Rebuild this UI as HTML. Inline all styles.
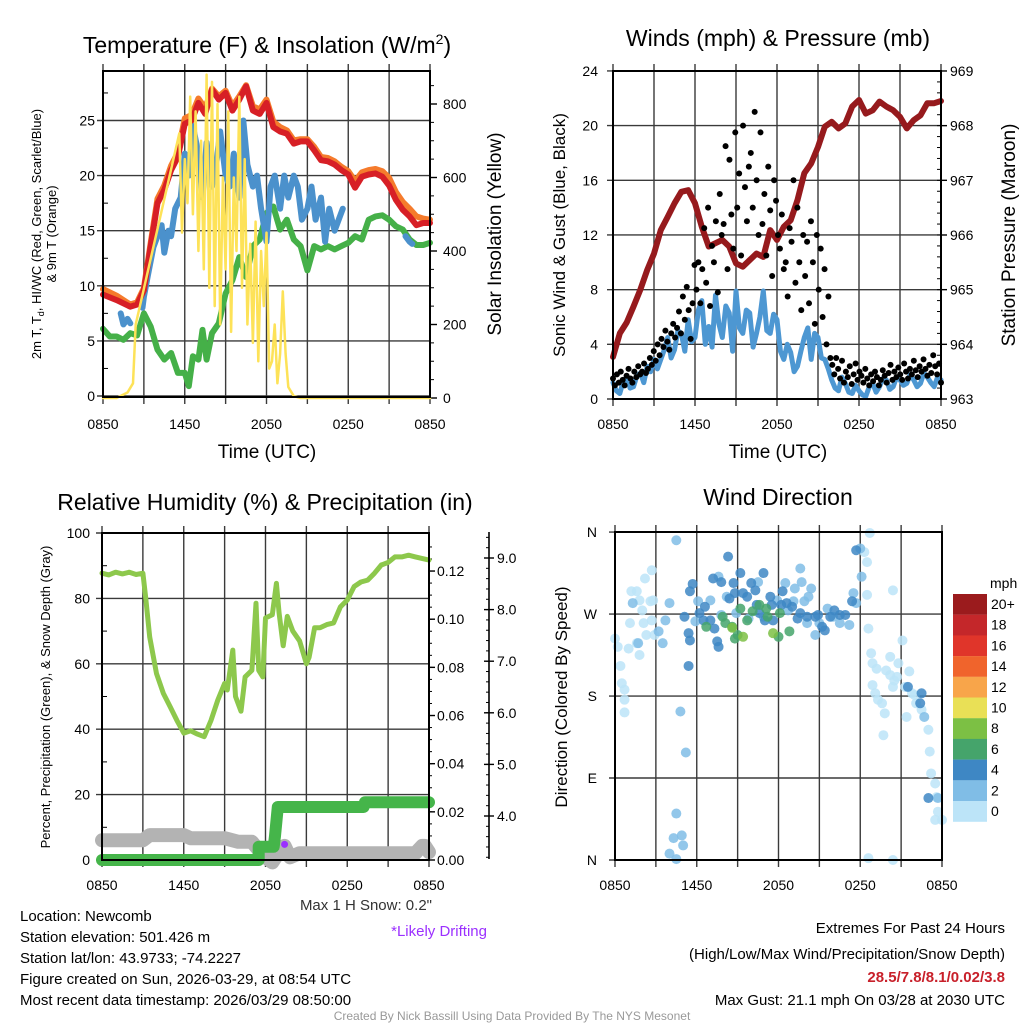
<!DOCTYPE html>
<html><head><meta charset="utf-8"><style>
html,body{margin:0;padding:0;background:#fff}
svg{display:block;font-family:"Liberation Sans",Arial,sans-serif}
</style></head><body>
<svg id="s" width="1024" height="1024" viewBox="0 0 1024 1024" xmlns="http://www.w3.org/2000/svg">
<rect width="1024" height="1024" fill="#fff"/>
<g id="p1"></g>
<g id="p2"></g>
<g id="p3"></g>
<g id="p4"></g>
<g id="txt" font-size="15" fill="#000">
<text x="20" y="921">Location: Newcomb</text>
<text x="20" y="942">Station elevation: 501.426 m</text>
<text x="20" y="963">Station lat/lon: 43.9733; -74.2227</text>
<text x="20" y="984">Figure created on Sun, 2026-03-29, at 08:54 UTC</text>
<text x="20" y="1005">Most recent data timestamp: 2026/03/29 08:50:00</text>
<text x="432" y="910" text-anchor="end" fill="#333">Max 1 H Snow: 0.2"</text>
<text x="487" y="936" text-anchor="end" fill="#9b30ff">*Likely Drifting</text>
<text x="1005" y="933" text-anchor="end">Extremes For Past 24 Hours</text>
<text x="1005" y="959" text-anchor="end">(High/Low/Max Wind/Precipitation/Snow Depth)</text>
<text x="1005" y="982" text-anchor="end" fill="#c8202a" font-weight="bold">28.5/7.8/8.1/0.02/3.8</text>
<text x="1005" y="1005" text-anchor="end">Max Gust: 21.1 mph On 03/28 at 2030 UTC</text>
<text x="512" y="1020" text-anchor="middle" font-size="12" fill="#999">Created By Nick Bassill Using Data Provided By The NYS Mesonet</text>
</g>
</svg>
<script>
// ---------- DATA ----------
const xTickLabels = ["0850","1450","2050","0250","0850"];
// Panel 1
const tempHours = [0,1,2,2.5,3,3.5,4,4.5,5,5.5,6,6.5,7,7.5,8,8.5,9,9.5,10,10.5,11,11.5,12,12.5,13,13.5,14,14.5,15,15.5,16,16.5,17,17.5,18,18.5,19,19.5,20,20.5,21,21.5,22,22.5,23,23.5,24];
const tempRed = [9.2,8.7,8.1,8.3,9.6,13.6,17.5,18.7,20.5,21.7,24.7,25.0,26.6,25.6,27.8,26.9,27.5,25.9,26.9,28.1,25.9,25.6,26.6,24.4,24.0,23.8,22.9,23.1,23.1,22.3,21.4,21.3,21.0,20.5,20.1,18.9,19.9,20.1,20.2,19.9,19.1,17.8,16.9,16.3,15.5,15.7,15.7];
const temp9m = [9.7,9.1,8.3,8.5,9.8,13.9,17.9,19.1,20.9,22.1,25.2,25.5,27.0,26.1,27.9,27.2,27.7,26.3,27.2,28.2,26.3,26.0,26.9,24.9,24.4,24.1,23.2,23.3,23.3,22.6,21.7,21.6,21.3,20.8,20.4,19.5,20.3,20.5,20.6,20.4,19.8,18.5,17.6,17.0,16.3,16.1,16.0];
const chillHours = [1.3,1.5,1.8,2.0,2.4,2.9,3.0,3.3,3.7,4.0,4.3,4.5,4.8,5.0,5.3,5.7,6.0,6.3,6.6,7.0,7.3,7.6,8.0,8.3,8.6,9.0,9.3,9.6,10.0,10.3,10.6,11.0,11.3,11.6,12.0,12.3,12.6,13.0,13.3,13.6,14.0,14.3,14.6,15.0,15.3,15.6,16.0,16.3,16.6,17.0,17.3,17.6,18.0,22.2,22.5,22.7];
const chillVals = [7.5,6.5,7.0,6.6,null,8.0,9,11,13.5,14.5,15.5,13,15,14.5,17,18,22,20,24.5,22,18,23,19,21,24,20,19,22,18,25,21,19,20,17,14,19,20,17,20,18,20,19,16,17,19,16,18,14,17,15,16,17,null,14.5,14,13.8];
const dewHours = [0,0.5,1,1.5,2,2.5,3,3.5,4,4.5,5,5.5,6,6.3,6.6,7,7.3,7.6,8,8.5,9,9.5,10,10.5,11,11.5,12,12.5,13,13.5,14,14.5,15,15.5,16,16.5,17,17.5,18,18.5,19,19.5,20,20.5,21,21.5,22,22.5,23,23.5,24];
const dewVals = [6.1,5.4,5.4,5.1,5.7,5.5,7.5,6.3,4.2,3.3,3.9,2.1,2.1,0.9,3.6,3.3,6.0,3.3,5.7,6.6,9.3,10.5,12.6,10.8,13.6,14.2,16.6,17.2,15.1,16.0,14.2,13.6,11.4,13.6,13.3,13.6,13.3,13.6,13.9,14.5,14.2,16.0,16.3,16.4,16.0,15.4,15.1,14.2,13.7,13.7,13.9];
const solarHours = [0,1,1.8,2.2,2.4,5.6,5.8,6,6.2,6.4,6.6,6.8,7,7.2,7.4,7.6,7.8,8,8.2,8.4,8.6,8.8,9,9.2,9.4,9.6,9.8,10,10.2,10.4,10.6,10.8,11,11.2,11.4,11.6,11.8,12,12.2,12.4,12.6,12.8,13,13.2,13.4,13.6,14,14.5,24];
const solarVals = [0,0,15,40,200,720,450,650,530,820,500,780,400,700,350,880,300,860,250,800,200,600,350,780,180,600,400,820,300,650,200,420,150,480,100,400,250,450,80,100,200,40,120,290,120,30,5,0,0];
// Panel 2
const windSpeed = [1.2,0.6,0.4,1.3,1.6,0.8,0.9,1.7,1.9,1.2,2.4,2.0,2.9,2.2,2.9,3.6,4.5,3.0,3.6,5.0,4.8,3.5,5.8,4.2,4.5,6.5,7.2,4.0,5.3,3.8,7.6,5.5,4.5,6.8,6.3,3.5,7.9,5.2,4.8,6.5,6.3,3.8,4.8,6.0,7.9,5.0,4.8,6.2,5.8,3.5,2.9,4.0,3.4,2.0,2.4,3.5,4.5,5.2,2.9,4.8,4.5,3.0,2.9,2.2,1.4,0.8,0.6,1.6,1.15,0.5,0.4,1.0,0.6,0.3,0.2,0.9,1.15,0.5,0.9,1.5,1.4,0.7,0.9,1.6,1.4,1.0,1.15,1.8,1.4,0.9,1.15,1.9,1.6,1.2,0.9,1.6,1.4];
const windGust = [1.5,1,1.8,1.2,2,1.4,1,1.7,2.2,1.5,1.2,2,1.6,2.4,1.8,2,2.6,1.9,2.2,3,2.5,
3.5,2.8,4,3.2,4.4,3.8,5,4.2,3.6,4.8,5.5,
4.5,5.2,6.4,4.8,7.5,5.8,8.2,6.5,4.4,7,9.8,
8,10,7,9.5,12.5,8.5,14,6.8,11.2,10,13,7.8,15,12,
12.8,18.5,9.5,17.5,13.5,11,19.5,14,16.5,10.5,20,15.5,13,17,
18,14,21,16,12,19.5,12.8,15,10.5,17,13.8,9,16,14.5,
12,11,13.5,9.5,10,7.5,12.5,11.5,16,8.5,14,10,6.5,12,
9,11.5,7,13,10,5.5,12,8,11,6,9.5,4,7.5,3,
2.5,1.8,3,2.2,1.5,2.8,1.2,2,1.6,2.4,1.1,1.8,2.6,1.4,2,1.7,1.2,2.2,1.5,1,1.8,1.3,2,1.6,1,1.4,2.1,1.7,1.2,1.9,2.5,1.4,2,1.6,2.3,1.8,1.4,2.6,2,1.5,2.2,1.8,2.8,2.1,1.6,2.4,2,2.9,2.2,1.7,2.5,1.9,3.2,2.4,1.8,2.6,1.2];
const pressure = [963.77,964.2,964.4,964.69,965.0,965.36,965.66,966.09,966.33,966.58,966.79,966.82,966.58,966.15,965.79,965.85,965.91,965.79,965.48,965.42,965.54,965.66,965.6,966.09,965.91,966.15,966.27,966.64,967.13,967.31,967.61,967.98,968.07,967.95,968.04,968.35,968.47,968.22,968.28,968.44,968.35,968.28,968.16,967.95,968.1,968.19,968.41,968.41,968.45];
// Panel 3
const rhHours = [0,0.5,1,1.5,2,2.5,3,3.2,3.5,4,4.5,5,5.5,6,6.5,7,7.5,8,8.5,9,9.2,9.6,9.8,10.2,10.5,11,11.3,11.5,11.8,12,12.5,12.8,13,13.3,13.6,14,14.5,15,15.2,15.6,16,16.5,17,17.5,18,18.5,19,19.5,20,20.5,21,21.5,22,22.5,23,24];
const rhVals = [87.7,87.2,88.0,87.5,88.0,87.3,87.7,80.5,68.2,57,51,46.9,42.7,38.8,39.5,38.5,37.7,42.7,48.9,54,52,64.2,50,45.5,56,58,78.5,58,56,74,75,84.6,75.5,65.5,74.5,70,67,60,62,71,71,72,72.5,77.4,79.5,83.6,85,85.6,87.7,90.2,91,92.7,92.7,93.2,92.7,91.7];
const precipHours = [0,11.5,11.5,12.6,12.7,12.8,12.9,19.2,19.3,24];
const precipVals = [0,0,0.0055,0.0055,0.01,0.016,0.022,0.022,0.024,0.024];
const snowHours = [0,3,3.5,6,6.5,9,10,11,11.5,12,12.5,13,13.4,13.8,14.5,23,23.5,23.7,24];
const snowVals = [3.53,3.53,3.63,3.63,3.57,3.57,3.5,3.5,3.34,3.2,3.1,3.3,3.42,3.2,3.28,3.28,3.42,3.42,3.3];
const driftHours = [13.4];
const driftVals = [3.45];
// Panel 4
const dirHours = [0.0,0.2,0.4,0.5,0.7,0.7,0.7,1.0,1.1,1.2,1.6,1.8,2.0,2.2,2.7,2.6,2.1,2.3,2.7,2.9,1.8,1.6,2.8,18.3,18.5,18.7,18.5,18.6,18.8,18.9,19.2,18.9,19.1,19.3,19.6,19.7,19.8,19.9,20.2,20.2,20.4,20.4,20.5,20.7,20.8,21.1,21.3,21.4,21.6,21.8,22.0,22.1,22.5,23.0,23.1,23.2,23.5,23.6,23.7,23.5,24.0,18.6,20.4,
1.3,1.7,3.2,3.5,3.7,4.0,4.5,4.8,5.2,4.5,4.3,4.9,5.0,4.0,4.5,5.9,6.1,7.0,7.6,7.8,8.2,8.9,9.8,10.5,10.9,11.9,12.5,12.7,13.1,13.2,13.6,13.7,13.9,14.1,14.2,14.4,14.7,15.0,15.6,16.0,16.5,17.2,17.5,17.7,18.1,22.7,23.7,18.0,
5.1,5.4,5.5,5.7,5.4,5.5,6.2,6.5,6.6,7.0,7.3,7.5,7.6,7.2,7.8,8.3,8.4,8.7,8.8,9.2,9.4,9.7,10.0,10.3,10.4,10.6,10.9,11.0,11.4,11.5,11.6,12.2,12.3,12.6,13.0,13.4,13.6,14.1,14.7,14.9,15.2,15.4,15.8,16.1,16.5,16.9,17.4,17.7,22.4,22.5,21.5,23.0,
6.7,7.9,8.1,8.6,8.8,9.2,9.7,10.1,10.6,11.1,11.2,12.0,12.1,12.8,9.0,
8.6,9.4,11.6];
const dirDegrees = [243,234,213,194,187,176,162,232,260,295,295,285,274,309,318,284,260,247,263,247,225,238,285,338,327,359,291,254,227,216,210,192,183,176,172,137,161,208,223,203,296,190,197,201,216,241,190,157,207,183,181,172,165,143,119,95,84,69,53,44,44,2,0,
282,238,251,238,263,282,351,163,118,51,24,27,16,7,1,262,284,285,311,269,289,271,265,305,267,285,304,274,284,298,320,305,284,260,289,298,247,260,276,267,260,258,293,282,311,157,68,342,
267,249,295,303,213,241,271,263,278,263,254,240,234,309,305,333,287,304,293,315,293,289,304,296,280,271,315,263,289,280,263,280,295,282,278,265,271,267,267,269,256,252,267,274,269,269,284,340,172,183,190,68,
256,267,260,256,243,276,263,273,280,276,267,245,271,251,247,
255,245,249];
const dirSpeeds = [1,1,1,1,1,1,1,1,1,1,1,1,1,1,1,1,1,1,1,1,1,1,1,1,1,1,1,1,1,1,1,1,1,1,1,1,1,1,1,1,1,1,1,1,1,1,1,1,1,1,1,1,1,1,1,1,1,1,1,1,1,1,1,
3,3,3,3,3,3,3,3,3,3,3,3,3,3,3,3,3,3,3,3,3,3,3,3,3,3,3,3,3,3,3,3,3,3,3,3,3,3,3,3,3,3,3,3,3,3,3,3,
5,5,5,5,5,5,5,5,5,5,5,5,5,5,5,5,5,5,5,5,5,5,5,5,5,5,5,5,5,5,5,5,5,5,5,5,5,5,5,5,5,5,5,5,5,5,5,5,5,5,5,5,
7,7,7,7,7,7,7,7,7,7,7,7,7,7,7,
9,9,9];
const speedBinLabels = ["20+","18","16","14","12","10","8","6","4","2","0"];
const speedBinColors = ["#9b1b1d","#c4272a","#e0352a","#f0642c","#f8a54a","#e9e056","#7cc044","#45a46b","#3e87c4","#80bde6","#bce4f8"];

// ---------- HELPERS ----------
const NS="http://www.w3.org/2000/svg";
function el(parent,tag,attrs,text){const e=document.createElementNS(NS,tag);for(const k in attrs)e.setAttribute(k,attrs[k]);if(text!==undefined)e.textContent=text;parent.appendChild(e);return e;}
function path(parent,hours,vals,xf,yf,stroke,w,name){
  let d="",pen=false;
  for(let i=0;i<Math.min(hours.length,vals.length);i++){
    if(vals[i]===null){pen=false;continue;}
    d+=(pen?"L":"M")+xf(hours[i]).toFixed(1)+","+yf(vals[i]).toFixed(1);pen=true;
  }
  const p=el(parent,"path",{d:d,fill:"none",stroke:stroke,"stroke-width":w,"stroke-linejoin":"round","stroke-linecap":"round"});
  
  
  return p;
}
function frame(g,L,R,T,B,hGrid,xLabY){
  for(let i=0;i<=8;i++){const x=L+(R-L)*i/8;
    const v=el(g,"line",{x1:x,x2:x,y1:T-7,y2:B+7,stroke:"#3a3a3a","stroke-width":1.4});
    
    
    if(i%2===0){const t=el(g,"text",{x:x,y:xLabY,"text-anchor":"middle","font-size":14},xTickLabels[i/2]);
      
      }
  }
  hGrid.forEach(y=>{const h=el(g,"line",{x1:L-6,x2:R,y1:y,y2:y,stroke:"#3a3a3a","stroke-width":1.4});
    
    });
}
function border(g,L,R,T,B){const r=el(g,"rect",{x:L,y:T,width:R-L,height:B-T,fill:"none",stroke:"#000","stroke-width":2});
  
  }
function label(g,x,y,txt,anchor,size,name,rot){
  const a={x:x,y:y,"text-anchor":anchor,"font-size":size};
  if(rot)a.transform="rotate(-90 "+x+" "+y+")";
  const t=el(g,"text",a,txt);
  
  
  return t;
}

// ---------- PANEL 1 ----------
(function(){
  const g=document.getElementById("p1");const L=103,R=430,T=71,B=397;
  const x=h=>L+h/24*(R-L), y=v=>396-v*11.02, ys=w=>398-w*0.3675;
  const tk=[0,5,10,15,20,25];
  frame(g,L,R,T,B,tk.map(y),429);
  tk.forEach(v=>label(g,95,y(v)+5,String(v),"end",14,"y-tick-label"));
  for(let v=2.5;v<29;v+=5){el(g,"line",{x1:L,x2:L+5,y1:y(v),y2:y(v),stroke:"#000"});}
  [0,200,400,600,800].forEach(w=>{label(g,443,ys(w)+5,String(w),"start",14,"right-tick-label");el(g,"line",{x1:R,x2:R+7,y1:ys(w),y2:ys(w),stroke:"#000","stroke-width":1.4});});
  for(let w=50;w<890;w+=50){el(g,"line",{x1:R,x2:R+4,y1:ys(w),y2:ys(w),stroke:"#000"});}
  path(g,dewHours,dewVals,x,y,"#45b048",6,"dewpoint-line");
  path(g,chillHours,chillVals,x,y,"#4b91cc",6,"windchill-line");
  path(g,tempHours,temp9m,x,y,"#f57b2c",6,"temp-9m-line");
  path(g,tempHours,tempRed,x,y,"#d71f26",6,"temp-2m-line");
  path(g,solarHours,solarVals,x,ys,"#fde258",2.5,"insolation-line");
  border(g,L,R,T,B);
  const t=label(g,267,53,"Temperature (F) & Insolation (W/m","middle",23,"chart-title-temp");
  el(t,"tspan",{"font-size":14,dy:-9},"2");el(t,"tspan",{dy:9},")");
  label(g,267,458,"Time (UTC)","middle",19,"x-axis-title");
  const yl=label(g,41,234,"2m T, T","middle",13,"y-axis-title-left",true);
  el(yl,"tspan",{"font-size":9,dy:3},"d");el(yl,"tspan",{dy:-3},", HI/WC (Red, Green, Scarlet/Blue)");
  label(g,56,234,"& 9m T (Orange)","middle",13,"y-axis-title-left-2",true);
  label(g,501,234,"Solar Insolation (Yellow)","middle",19,"y-axis-title-right",true);
})();

// ---------- PANEL 2 ----------
(function(){
  const g=document.getElementById("p2");const L=613,R=941,T=71,B=399;
  const x=h=>L+h/24*(R-L), y=v=>399-v*13.67, yp=p=>399-(p-963)*54.67;
  const tk=[0,4,8,12,16,20,24];
  frame(g,L,R,T,B,tk.map(y),429);
  tk.forEach(v=>label(g,598,y(v)+5,String(v),"end",14,"y-tick-label"));
  [963,964,965,966,967,968,969].forEach(p=>{label(g,950,yp(p)+5,String(p),"start",14,"right-tick-label");el(g,"line",{x1:R,x2:R+6,y1:yp(p),y2:yp(p),stroke:"#000","stroke-width":1.4});});
  for(let p=963.2;p<969;p+=0.2){el(g,"line",{x1:R-4,x2:R,y1:yp(p),y2:yp(p),stroke:"#000"});}
  path(g,windSpeed.map((v,i)=>i*0.25),windSpeed,x,y,"#4d97d2",5,"sonic-wind-line");
  path(g,pressure.map((v,i)=>i*0.5),pressure,x,yp,"#961a1d",6,"pressure-line");
  windGust.forEach((v,i)=>{const c=el(g,"circle",{cx:x(i*24/(windGust.length-1)),cy:y(v),r:3,fill:"#000"});
    
    });
  border(g,L,R,T,B);
  label(g,778,46,"Winds (mph) & Pressure (mb)","middle",23,"chart-title-winds");
  label(g,778,458,"Time (UTC)","middle",19,"x-axis-title");
  label(g,565,235,"Sonic Wind & Gust (Blue, Black)","middle",17,"y-axis-title-left",true);
  label(g,1015,235,"Station Pressure (Maroon)","middle",19,"y-axis-title-right",true);
})();

// ---------- PANEL 3 ----------
(function(){
  const g=document.getElementById("p3");const L=102,R=429,T=533,B=860;
  const x=h=>L+h/24*(R-L), y=v=>860-v*3.27, yr=v=>860-v*2408, ysn=s=>816-(s-4)*51.6;
  const tk=[0,20,40,60,80,100];
  frame(g,L,R,T,B,tk.map(y),890);
  tk.forEach(v=>label(g,90,y(v)+5,String(v),"end",14,"y-tick-label"));
  for(let v=10;v<100;v+=20){el(g,"line",{x1:L,x2:L+5,y1:y(v),y2:y(v),stroke:"#000"});}
  [0,0.02,0.04,0.06,0.08,0.10,0.12].forEach(v=>{label(g,437,yr(v)+5,v.toFixed(2),"start",14,"precip-tick-label");el(g,"line",{x1:R,x2:R+6,y1:yr(v),y2:yr(v),stroke:"#000","stroke-width":1.4});});
  for(let v=0.005;v<0.135;v+=0.005){el(g,"line",{x1:R,x2:R+3,y1:yr(v),y2:yr(v),stroke:"#000"});}
  const ax=el(g,"line",{x1:489,x2:489,y1:532,y2:859,stroke:"#000","stroke-width":1.6});
  
  
  [4,5,6,7,8,9].forEach(s=>{label(g,497,ysn(s)+5,s.toFixed(1),"start",14,"snow-tick-label");el(g,"line",{x1:484,x2:494,y1:ysn(s),y2:ysn(s),stroke:"#000","stroke-width":1.4});});
  for(let s=3.2;s<9.6;s+=0.2){const yy=ysn(s);if(yy>533&&yy<859)el(g,"line",{x1:486,x2:489,y1:yy,y2:yy,stroke:"#000"});}
  path(g,rhHours,rhVals,x,y,"#8dc84c",5,"rh-line");
  path(g,snowHours,snowVals,x,ysn,"#b3b3b3",14,"snow-depth-line");
  path(g,precipHours,precipVals,x,yr,"#45b54a",12,"precip-line");
  driftHours.forEach((h,i)=>{const c=el(g,"circle",{cx:x(h),cy:ysn(driftVals[i]),r:3.5,fill:"#9b30ff"});
    
    });
  border(g,L,R,T,B);
  label(g,265,510,"Relative Humidity (%) & Precipitation (in)","middle",23,"chart-title-humidity");
  label(g,50,697,"Percent, Precipitation (Green), & Snow Depth (Gray)","middle",13,"y-axis-title-left",true);
})();

// ---------- PANEL 4 ----------
(function(){
  const g=document.getElementById("p4");const L=615,R=942,T=532,B=860;
  const x=h=>L+h/24*(R-L), y=d=>860-d*0.911;
  const dirTicks=[0,90,180,270,360], dirLabels=["N","E","S","W","N"];
  frame(g,L,R,T,B,dirTicks.map(y),890);
  dirTicks.forEach((d,i)=>label(g,597,y(d)+5,dirLabels[i],"end",14,"y-tick-label"));
  function col(s){let idx=Math.min(10,Math.floor(s/2));return speedBinColors[10-idx];}
  const n=Math.min(dirHours.length,dirDegrees.length,dirSpeeds.length);
  for(let i=0;i<n;i++){const c=el(g,"circle",{cx:x(dirHours[i]),cy:y(dirDegrees[i]),r:5,fill:col(dirSpeeds[i]),"fill-opacity":0.85});
    
    }
  border(g,L,R,T,B);
  label(g,778,505,"Wind Direction","middle",23,"chart-title-direction");
  label(g,567,697,"Direction (Colored By Speed)","middle",17,"y-axis-title-left",true);
  label(g,990,588,"mph","start",14,"colorbar-title");
  speedBinLabels.forEach((lb,i)=>{
    const r=el(g,"rect",{x:953,y:594+i*20.7,width:34,height:20.8,fill:speedBinColors[i]});
    
    
    label(g,991,609+i*20.7,lb,"start",14,"colorbar-label");
  });
})();
</script>
</body></html>
